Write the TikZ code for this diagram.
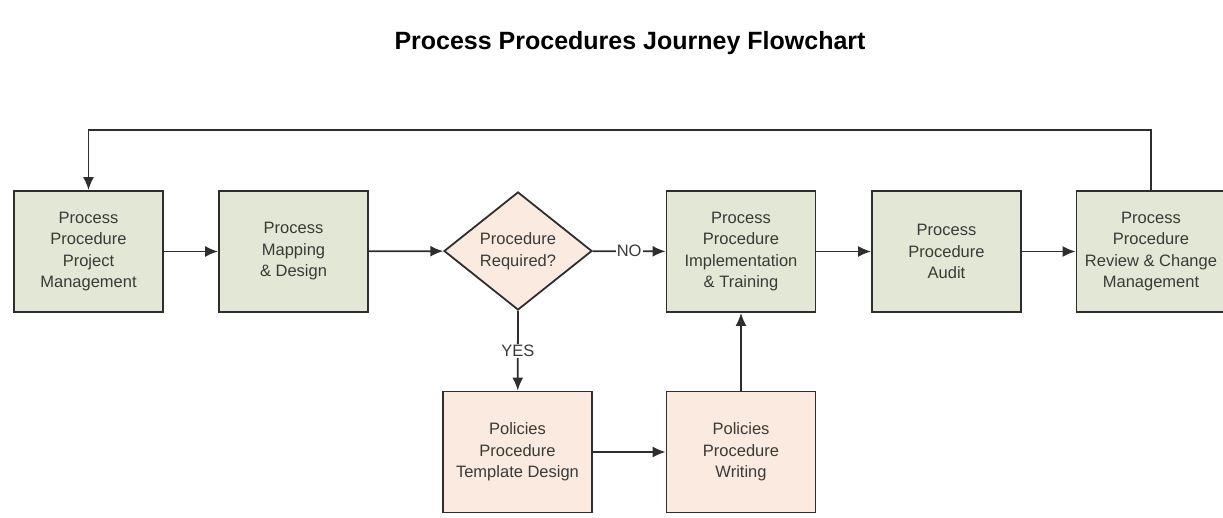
\documentclass[tikz,border=0pt]{standalone}
\usepackage{fontspec}
\setmainfont{Liberation Sans}
\usetikzlibrary{shapes.geometric,arrows.meta}
\definecolor{boxgreen}{HTML}{E3E7D5}
\definecolor{boxpeach}{HTML}{FBEADF}
\definecolor{lineclr}{HTML}{2E2E2E}
\definecolor{txtclr}{HTML}{3A3A3A}

\begin{document}
\begin{tikzpicture}[x=1pt,y=-1pt,
  every node/.style={font=\fontsize{16.5}{21.5}\selectfont,text=txtclr},
  stagebox/.style={draw=lineclr,line width=1.8pt,minimum width=149pt,minimum height=121pt,align=center,inner sep=2pt},
  flow/.style={draw=lineclr,line width=1.8pt,-{Latex[length=13pt,width=11pt]}},
  flowlabel/.style={fill=white,inner sep=1pt}]
  \useasboundingbox[fill=white] (0,0) rectangle (1223,518);
  \node[font=\fontsize{25}{30}\bfseries\selectfont,text=black] (title) at (630,43) {Process Procedures Journey Flowchart};
  % top row
  \node[stagebox,fill=boxgreen] (ppm) at (88.5,251.5) {Process\\Procedure\\Project\\Management};
  \node[stagebox,fill=boxgreen] (pmd) at (293.5,251.5) {Process\\Mapping\\\& Design};
  \node[diamond,draw=lineclr,line width=1.8pt,fill=boxpeach,minimum width=148pt,minimum height=118pt,inner sep=0pt,align=center] (req) at (518,251) {Procedure\\Required?};
  \node[stagebox,fill=boxgreen] (ppit) at (741,251.5) {Process\\Procedure\\Implementation\\\& Training};
  \node[stagebox,fill=boxgreen] (ppa) at (946.5,251.5) {Process\\Procedure\\Audit};
  \node[stagebox,fill=boxgreen] (pprc) at (1151,251.5) {Process\\Procedure\\Review \& Change\\Management};
  % bottom row
  \node[stagebox,fill=boxpeach] (pptd) at (517.5,452) {Policies\\Procedure\\Template Design};
  \node[stagebox,fill=boxpeach] (ppw) at (741,452) {Policies\\Procedure\\Writing};
  % connectors
  \draw[flow] (ppm) -- (pmd);
  \draw[flow] (pmd) -- (req);
  \draw[flow] (req) -- (ppit) node[flowlabel,midway] {NO};
  \draw[flow] (req.south) -- (pptd) node[flowlabel,midway] {YES};
  \draw[flow] (pptd) -- (ppw);
  \draw[flow] (ppw) -- (ppit);
  \draw[flow] (ppit) -- (ppa);
  \draw[flow] (ppa) -- (pprc);
  \draw[flow] (pprc.north) -- ++(0,-60) -| (ppm.north);
\end{tikzpicture}
\end{document}
